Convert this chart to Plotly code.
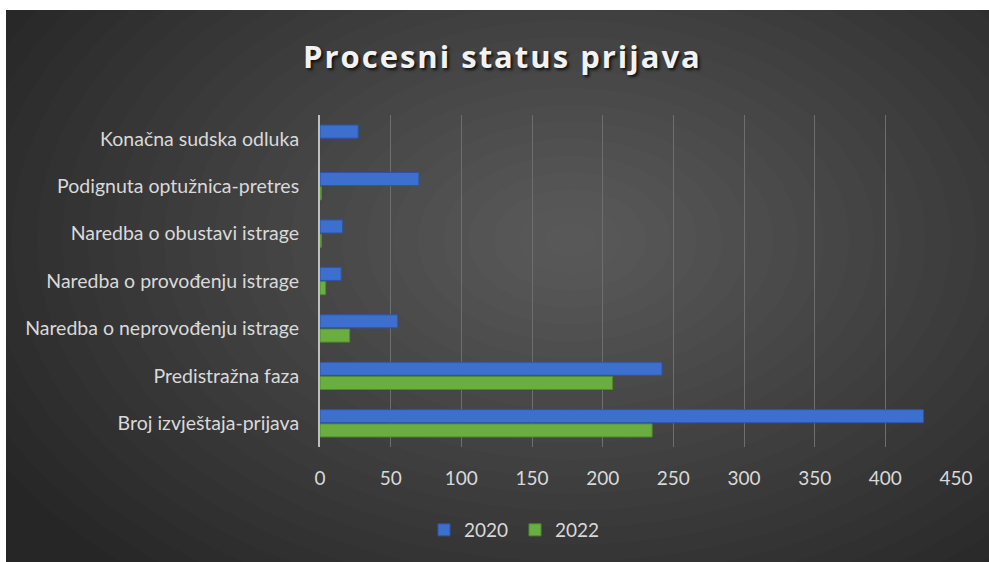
import plotly.graph_objects as go

categories = ["Broj izvještaja-prijava", "Predistražna faza", "Naredba o neprovođenju istrage",
              "Naredba o provođenju istrage", "Naredba o obustavi istrage",
              "Podignuta optužnica-pretres", "Konačna sudska odluka"]
values_2020 = [427, 242, 55, 15, 16, 70, 27]
values_2022 = [235, 207, 21, 4, 1, 1, 0]
x_ticks = [0, 50, 100, 150, 200, 250, 300, 350, 400, 450]

W, H = 989, 562
L, R, T, B = 320, 33, 115, 115
pw, ph = W - L - R, H - T - B

def px(x):
    return (x - L) / pw

def py(y):
    return (H - B - y) / ph

fig = go.Figure()
fig.add_trace(go.Bar(y=categories, x=values_2022, name="2022", orientation="h",
                     marker=dict(color="#6aae42",
                                 line=dict(color="#4f8a2e", width=[1 if v > 0 else 0 for v in values_2022])),
                     legendrank=2))
fig.add_trace(go.Bar(y=categories, x=values_2020, name="2020", orientation="h",
                     marker=dict(color="#3d6fcf",
                                 line=dict(color="#2c55a6", width=[1 if v > 0 else 0 for v in values_2020])),
                     legendrank=1))

shapes = [dict(type="rect", xref="paper", yref="paper", x0=px(6), x1=px(W + 5),
               y0=py(H + 5), y1=py(10), fillcolor="#262626", line=dict(width=0), layer="below")]
cx, cy = 570, 240
n = 26
for i in range(n):
    f = 1 - i / n
    rx, ry = 660 * f, 440 * f
    shapes.append(dict(type="circle", xref="paper", yref="paper",
                       x0=px(cx - rx), x1=px(cx + rx), y0=py(cy + ry), y1=py(cy - ry),
                       fillcolor="rgba(255,255,255,0.012)", line=dict(width=0), layer="below"))

fig.update_layout(
    width=W, height=H,
    margin=dict(l=L, r=R, t=T, b=B),
    paper_bgcolor="white", plot_bgcolor="rgba(0,0,0,0)",
    barmode="group", bargap=0.4, bargroupgap=0.08,
    shapes=shapes,
    title=dict(text="<b>Procesni status prijava</b>", x=0.508, xanchor="center",
               y=1 - 57 / H, yanchor="middle",
               font=dict(family="Open Sans", size=31, color="#f2f2f2", shadow="2px 2px 3px #111")),
    font=dict(family="Lato", size=19.5, color="#d9d9d9"),
    xaxis=dict(range=[0, 450], tickvals=x_ticks, showgrid=True, gridcolor="#6e6e6e", gridwidth=1,
               zeroline=False, showline=False, ticks="", ticklabelstandoff=18,
               tickfont=dict(family="Lato", size=19, color="#d9d9d9")),
    yaxis=dict(showline=True, linecolor="#bfbfbf", linewidth=2, showgrid=False, ticks="",
               ticklabelstandoff=15, tickfont=dict(family="Lato", size=19.5, color="#d9d9d9")),
    legend=dict(orientation="h", x=px(515), xanchor="center", y=py(530), yanchor="middle",
                entrywidth=46, itemwidth=30,
                font=dict(family="Lato", size=19, color="#d9d9d9"), bgcolor="rgba(0,0,0,0)"),
)

post = ("document.body.style.margin='0';document.body.style.overflow='hidden';"
        "var t=document.querySelector('.gtitle');if(t){t.style.letterSpacing='2px';}")
fig.write_html("out.html", post_script=post, config={"displayModeBar": False})
